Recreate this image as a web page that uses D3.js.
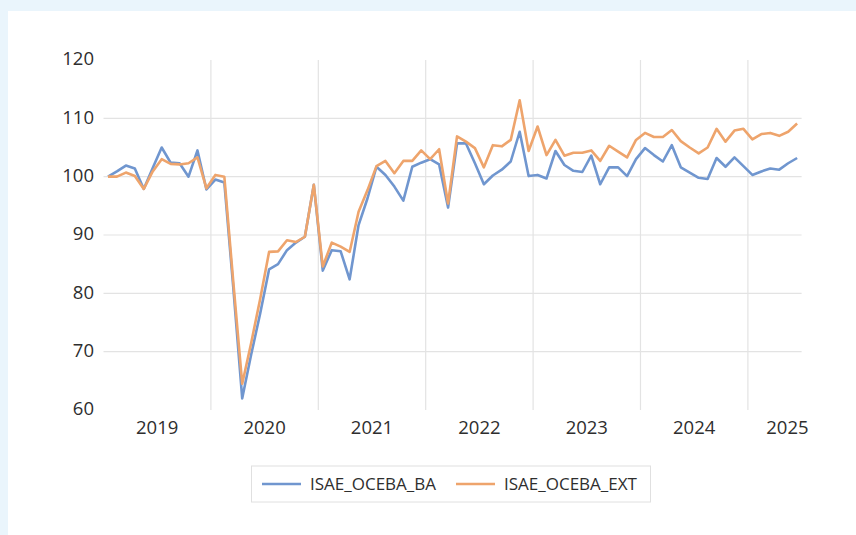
<!DOCTYPE html>
<html><head><meta charset="utf-8">
<script src="https://cdn.jsdelivr.net/npm/d3@7"></script>
<style>html,body{margin:0;padding:0;background:#eaf5fc;}svg{display:block;}</style>
</head><body>
<svg id="c" width="856" height="535"></svg>
<script>
const years = [2019, 2020, 2021, 2022, 2023, 2024, 2025];
const monthsPerYear = [12, 12, 12, 12, 12, 12, 6];
const yTicks = [60, 70, 80, 90, 100, 110, 120];
const seriesNames = ["ISAE_OCEBA_BA", "ISAE_OCEBA_EXT"];
const seriesBA = [
  100.0, 100.9, 101.9, 101.4, 97.9, 101.5, 105.0, 102.4, 102.3, 100.0, 104.5, 97.8,
  99.5, 99.0, 81.0, 62.0, 69.5, 76.5, 84.1, 85.0, 87.4, 88.7, 89.7, 98.6,
  83.9, 87.4, 87.2, 82.4, 91.7, 96.3, 101.7, 100.3, 98.3, 95.9, 101.7, 102.4,
  103.0, 102.1, 94.7, 105.7, 105.7, 102.3, 98.7, 100.2, 101.2, 102.6, 107.7, 100.1,
  100.3, 99.7, 104.4, 102.0, 101.0, 100.8, 103.6, 98.7, 101.6, 101.6, 100.1, 103.0,
  104.9, 103.7, 102.6, 105.4, 101.6, 100.7, 99.8, 99.6, 103.2, 101.7, 103.3, 101.8,
  100.3, 100.9, 101.4, 101.2, 102.3, 103.2
];
const seriesEXT = [
  100.0, 100.0, 100.7, 100.1, 97.9, 100.9, 103.0, 102.2, 102.1, 102.3, 103.3, 98.0,
  100.3, 100.0, 82.0, 64.5, 71.5, 79.0, 87.1, 87.2, 89.1, 88.8, 89.7, 98.6,
  84.6, 88.7, 88.0, 87.1, 94.0, 97.7, 101.8, 102.7, 100.6, 102.7, 102.7, 104.5,
  103.0, 104.7, 95.4, 106.9, 106.0, 104.9, 101.6, 105.4, 105.2, 106.3, 113.1, 104.4,
  108.6, 103.7, 106.3, 103.6, 104.1, 104.1, 104.5, 102.7, 105.3, 104.3, 103.3, 106.3,
  107.5, 106.8, 106.8, 108.0, 106.1, 105.0, 104.0, 105.0, 108.2, 106.0, 107.9, 108.2,
  106.4, 107.3, 107.5, 107.0, 107.7, 109.1
];

const months = [];
years.forEach((yr, k) => { for (let m = 0; m < monthsPerYear[k]; m++) months.push(yr + "-" + (m + 1)); });

const svg = d3.select("#c");
svg.append("rect").attr("x", 8).attr("y", 11).attr("width", 848).attr("height", 524).attr("fill", "#ffffff");

const pLeft = 103.5, pRight = 801.6, pTop = 60, pBottom = 410;
const x = d3.scaleBand().domain(months).range([pLeft, pRight]).paddingInner(0).paddingOuter(0);
const y = d3.scaleLinear().domain([60, 120]).range([pBottom, pTop]);
const cx = d => x(d) + x.bandwidth() / 2;
const FONT = "'Open Sans', sans-serif";
const TXT = "#2e2e2e";

const grid = svg.append("g");
grid.selectAll("line.h").data(yTicks.filter(t => t > 60 && t < 120)).enter().append("line")
  .attr("x1", pLeft).attr("x2", pRight).attr("y1", d => y(d)).attr("y2", d => y(d))
  .attr("stroke", "#e3e3e3").attr("stroke-width", 1.2);
let idx = 0; const bounds = []; const centers = [];
years.forEach((yr, k) => {
  const first = months[idx], last = months[idx + monthsPerYear[k] - 1];
  const partial = monthsPerYear[k] < 12;
  centers.push({ yr, partial, x: partial ? pRight + 7 : (x(first) + x(last) + x.bandwidth()) / 2 });
  idx += monthsPerYear[k];
  if (k < years.length - 1) bounds.push(x(months[idx]));
});
grid.selectAll("line.v").data(bounds).enter().append("line")
  .attr("x1", d => d).attr("x2", d => d).attr("y1", pTop).attr("y2", pBottom)
  .attr("stroke", "#e3e3e3").attr("stroke-width", 1.2);

svg.append("g").selectAll("text").data(yTicks).enter().append("text")
  .attr("x", 94).attr("y", d => y(d) - 1).attr("dy", "0.35em").attr("text-anchor", "end")
  .attr("font-family", FONT).attr("font-size", 18.5).attr("fill", TXT)
  .text(d => d);

svg.append("g").selectAll("text").data(centers).enter().append("text")
  .attr("x", d => d.x).attr("y", 434).attr("text-anchor", d => d.partial ? "end" : "middle")
  .attr("font-family", FONT).attr("font-size", 18.5).attr("fill", TXT)
  .text(d => d.yr);

const colors = ["#7096cf", "#eea46c"];
const line = d3.line().x((d, i) => cx(months[i])).y(d => y(d));
[seriesBA, seriesEXT].forEach((s, k) => {
  svg.append("path").datum(s).attr("d", line).attr("fill", "none")
    .attr("stroke", colors[k]).attr("stroke-width", 2.6).attr("stroke-linejoin", "round");
});

const lg = svg.append("g");
lg.append("rect").attr("x", 251.5).attr("y", 466).attr("width", 399).attr("height", 36)
  .attr("fill", "#fff").attr("stroke", "#e0e0e0").attr("stroke-width", 1);
const items = [{ x1: 262, x2: 301, tx: 310 }, { x1: 456, x2: 495, tx: 504 }];
items.forEach((it, k) => {
  lg.append("line").attr("x1", it.x1).attr("x2", it.x2).attr("y1", 484).attr("y2", 484)
    .attr("stroke", colors[k]).attr("stroke-width", 2.6);
  lg.append("text").attr("x", it.tx).attr("y", 484).attr("dy", "0.35em")
    .attr("font-family", FONT).attr("font-size", 17).attr("fill", TXT)
    .text(seriesNames[k]);
});
</script>
</body></html>
